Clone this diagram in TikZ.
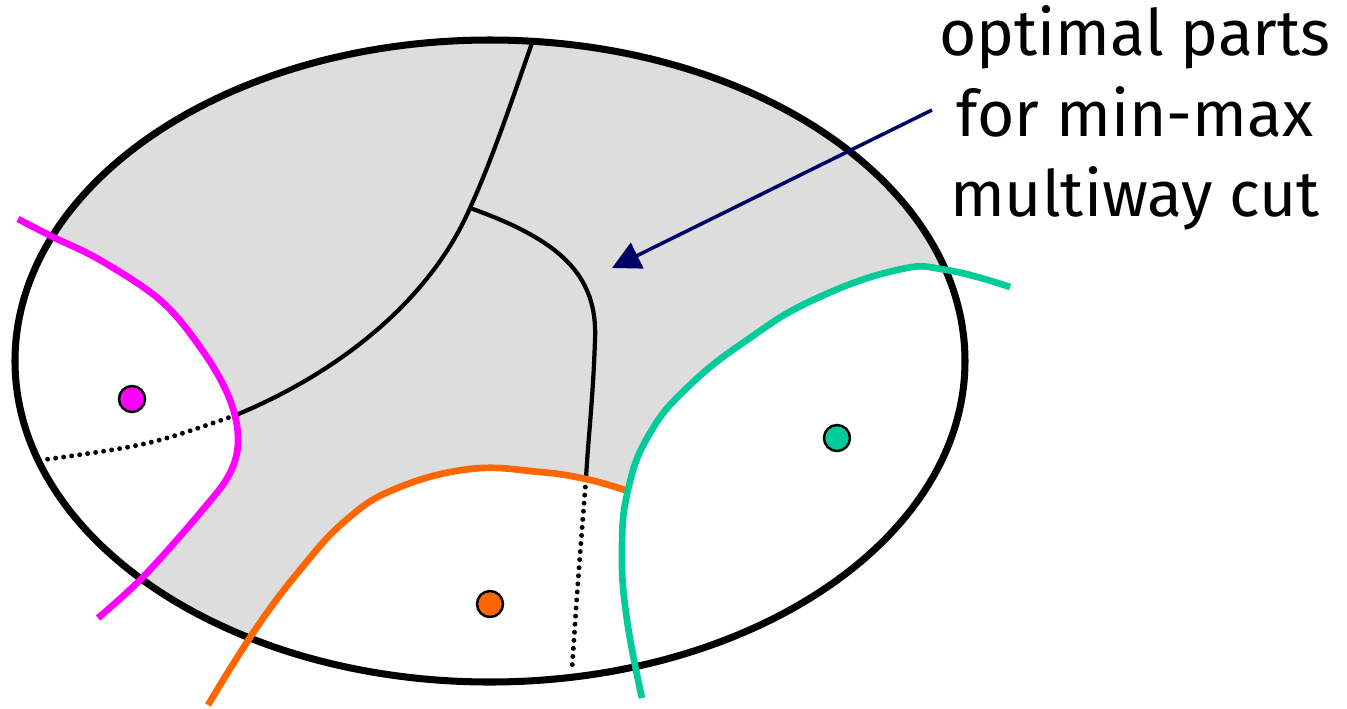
\documentclass[tikz,border=0pt]{standalone}
\usepackage{fontspec}
\setmainfont{Fira Sans}
\usetikzlibrary{arrows.meta, positioning}
\definecolor{CutMag}{RGB}{255,0,255}
\definecolor{CutOra}{RGB}{255,102,0}
\definecolor{CutTea}{RGB}{0,204,153}
\definecolor{PartGray}{RGB}{221,221,221}
\definecolor{ArrNavy}{RGB}{0,0,102}

\begin{document}
\begin{tikzpicture}[x=0.01cm, y=-0.01cm,
    cutline/.style={line width=1.9pt},
    sepline/.style={line width=1.2pt},
    dotsep/.style={line width=1.4pt, line cap=round, dash pattern=on 0pt off 2.3pt},
    terminal/.style={circle, draw=black, line width=0.7pt, minimum size=0.26cm, inner sep=0pt}]
  \useasboundingbox (0,0) rectangle (1347,708);
  % the graph and its optimal parts
  \fill[PartGray] (490,361) ellipse [x radius=475, y radius=321];
  \begin{scope}
    \clip (490,361) ellipse [x radius=475, y radius=321];
    \fill[white] plot[smooth, tension=0.6] coordinates {(18,219) (53,237) (100,260) (160,300) (200,347) (228,395) (238,437) (230,473) (200,513) (143,577) (98,618)}
      -- (-50,618) -- (-50,219) -- cycle;
    \fill[white] plot[smooth, tension=0.7] coordinates {(208,705) (255,630) (300,570) (345,521) (395,489) (470,469) (540,472) (586,479) (625,490)}
      -- (700,490) -- (700,760) -- (208,760) -- cycle;
    \fill[white] plot[smooth, tension=0.75] coordinates {(642,698) (627,620) (622,553) (628,490) (650,433) (690,385) (747,340) (813,300) (897,270) (947,270) (1010,287)}
      -- (1100,287) -- (1100,760) -- (642,760) -- cycle;
  \end{scope}
  \draw[line width=2pt] (490,361) ellipse [x radius=475, y radius=321];

  % junctions
  \coordinate (top) at (532,43);
  \coordinate (fork) at (470,208);
  \coordinate (magjoin) at (236,415);
  \coordinate (orajoin) at (586,479);
  \coordinate (magend) at (42,460);
  \coordinate (oraend) at (572,669);

  \draw[sepline] (top) .. controls (512,100) and (492,160) .. (fork);
  \draw[sepline] (fork) .. controls (430,300) and (340,372) .. (magjoin);
  \draw[sepline] (fork) .. controls (560,240) and (598,275) .. (595,340)
    .. controls (593,400) and (588,440) .. (orajoin);
  \draw[dotsep] (magjoin) .. controls (150,445) .. (magend);
  \draw[dotsep] (orajoin) .. controls (578,580) .. (oraend);

  % the three cuts
  \draw[cutline, CutMag] plot[smooth, tension=0.6] coordinates {(18,219) (53,237) (100,260) (160,300) (200,347) (228,395) (238,437) (230,473) (200,513) (143,577) (98,618)};
  \draw[cutline, CutOra] plot[smooth, tension=0.7] coordinates {(208,705) (255,630) (300,570) (345,521) (395,489) (470,469) (540,472) (586,479) (625,490)};
  \draw[cutline, CutTea] plot[smooth, tension=0.75] coordinates {(642,698) (627,620) (622,553) (628,490) (650,433) (690,385) (747,340) (813,300) (897,270) (947,270) (1010,287)};

  % terminals
  \node[terminal, fill=CutMag] (tmag) at (132,399) {};
  \node[terminal, fill=CutOra] (tora) at (490,604) {};
  \node[terminal, fill=CutTea] (ttea) at (837,438) {};

  \node[align=center, font=\fontsize{18.2}{22.8}\selectfont] (label) at (1135,118) {optimal parts\\for min-max\\multiway cut};
  \coordinate (aim) at (612,268);
  \draw[ArrNavy, line width=1pt, -{Triangle[length=8pt, width=8pt]}] (932,110) -- (aim);
\end{tikzpicture}
\end{document}
